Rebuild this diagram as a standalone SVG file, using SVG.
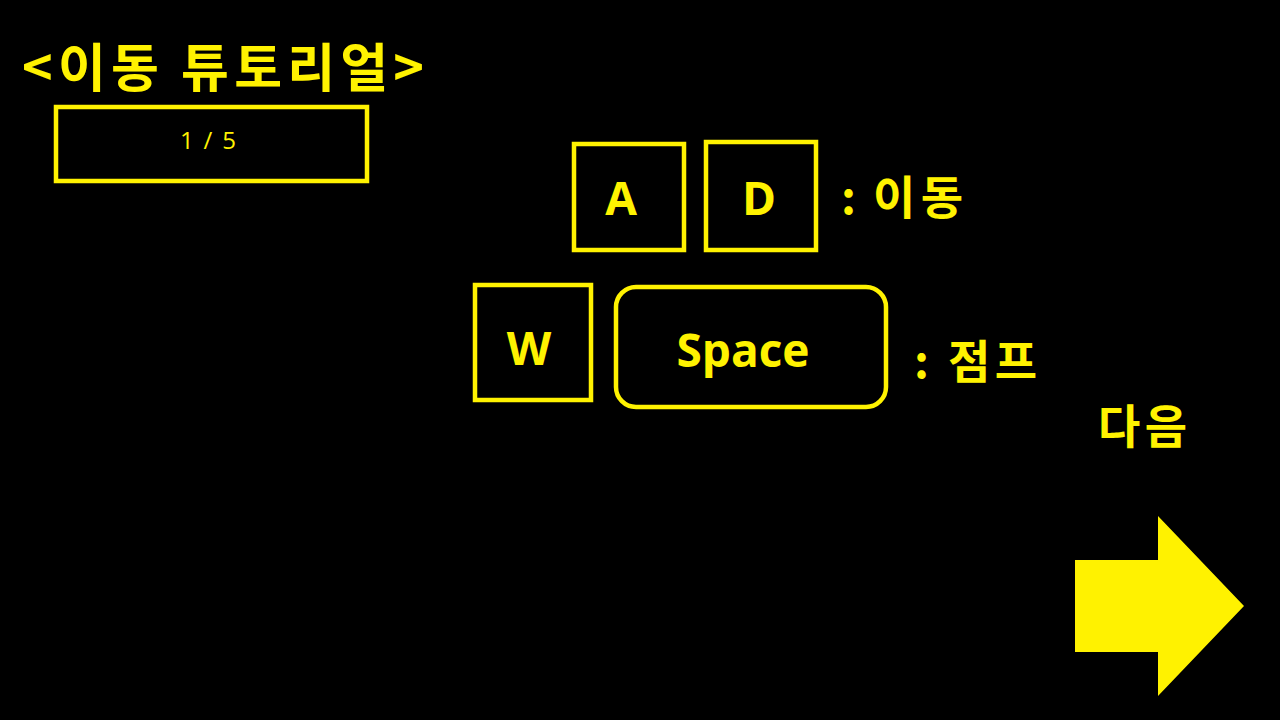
<svg xmlns="http://www.w3.org/2000/svg" width="1280" height="720" viewBox="0 0 1280 720">
<style>
.bg{fill:#000}
.box{fill:none;stroke:#FFF200;stroke-width:4.5}
.kr{font-family:"Noto Sans CJK KR","Malgun Gothic",sans-serif;font-weight:700;fill:#FFF200}
.lat{font-family:"Open Sans","Noto Sans",sans-serif;font-weight:700;fill:#FFF200;text-anchor:middle}
.small{font-family:"Open Sans","Noto Sans",sans-serif;font-weight:400;fill:#FFF200;font-size:24px}
</style>
<rect class="bg" x="0" y="0" width="1280" height="720"/>
<g id="title">
<text class="kr" x="22" y="87" font-size="52" textLength="402" lengthAdjust="spacing">&lt;이동 튜토리얼&gt;</text>
</g>
<g id="page">
<rect class="box" x="56" y="107" width="311" height="74"/>
<text class="small" x="180" y="149" textLength="56" lengthAdjust="spacing">1 / 5</text>
</g>
<g id="key-a">
<rect class="box" x="574" y="144" width="110" height="106"/>
<text class="lat" x="621" y="215" font-size="46">A</text>
</g>
<g id="key-d">
<rect class="box" x="706" y="142" width="110" height="108"/>
<text class="lat" x="759" y="215" font-size="46">D</text>
</g>
<g id="label-move">
<text class="kr" x="841" y="214" font-size="46">:</text>
<text class="kr" x="873" y="214" font-size="46" textLength="90" lengthAdjust="spacing">이동</text>
</g>
<g id="key-w">
<rect class="box" x="475" y="285" width="116" height="115"/>
<text class="lat" x="529" y="365" font-size="46">W</text>
</g>
<g id="key-space">
<rect class="box" x="616" y="287" width="270" height="120" rx="20" ry="20"/>
<text class="lat" x="743" y="367" font-size="46">Space</text>
</g>
<g id="label-jump">
<text class="kr" x="914" y="378" font-size="46">:</text>
<text class="kr" x="948" y="378" font-size="46" textLength="89" lengthAdjust="spacing">점프</text>
</g>
<g id="next">
<text class="kr" x="1098" y="443" font-size="46" textLength="89" lengthAdjust="spacing">다음</text>
<polygon points="1075,560 1158,560 1158,516 1244,606 1158,696 1158,652 1075,652" fill="#FFF200"/>
</g>
<g id="connectors"/>
</svg>
